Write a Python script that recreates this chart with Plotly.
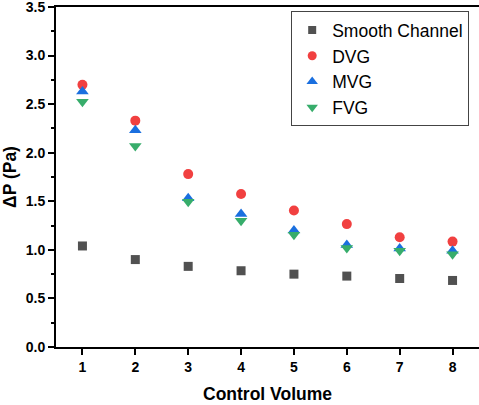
import plotly.graph_objects as go

control_volume = [1, 2, 3, 4, 5, 6, 7, 8]
smooth_channel = [1.04, 0.90, 0.83, 0.785, 0.75, 0.73, 0.705, 0.685]
dvg = [2.70, 2.33, 1.78, 1.575, 1.405, 1.265, 1.13, 1.085]
mvg = [2.63, 2.23, 1.53, 1.37, 1.20, 1.05, 1.015, 0.99]
fvg = [2.525, 2.07, 1.495, 1.30, 1.155, 1.02, 0.99, 0.955]

y_ticks = [0.0, 0.5, 1.0, 1.5, 2.0, 2.5, 3.0, 3.5]
y_tick_labels = ["0.0", "0.5", "1.0", "1.5", "2.0", "2.5", "3.0", "3.5"]
x_tick_labels = ["1", "2", "3", "4", "5", "6", "7", "8"]

series = [
    ("Smooth Channel", smooth_channel, "square", "#515151", 9, 8),
    ("DVG", dvg, "circle", "#F14040", 10, 9),
    ("MVG", mvg, "triangle-up", "#1A6FDF", 11, 10),
    ("FVG", fvg, "triangle-down", "#37AD6B", 11, 10),
]

fig = go.Figure()
for name, vals, sym, col, size, _ in series:
    fig.add_trace(go.Scatter(
        x=control_volume, y=vals, mode="markers", name=name, showlegend=False,
        marker=dict(symbol=sym, color=col, size=size, line=dict(width=0)),
    ))
# legend entries with slightly smaller symbols
for name, vals, sym, col, _, lsize in series:
    fig.add_trace(go.Scatter(
        x=[None], y=[None], mode="markers", name=name, showlegend=True,
        marker=dict(symbol=sym, color=col, size=lsize, line=dict(width=0)),
    ))

font_family = "Liberation Sans, Arial, sans-serif"

fig.update_layout(
    width=479, height=405,
    margin=dict(l=56, r=0, t=7, b=58),
    paper_bgcolor="white", plot_bgcolor="white",
    font=dict(family=font_family, color="black"),
    showlegend=True,
    legend=dict(
        x=0.556, y=0.988, xanchor="left", yanchor="top",
        bordercolor="#444", borderwidth=1, bgcolor="white",
        font=dict(size=17.5, family=font_family),
        itemsizing="trace", tracegroupgap=0,
    ),
    xaxis=dict(
        range=[0.5, 8.5],
        tickmode="array", tickvals=control_volume,
        ticktext=[f"<b>{t}</b>" for t in x_tick_labels],
        showgrid=False, zeroline=False,
        showline=True, linecolor="black", linewidth=2, mirror=True,
        ticks="outside", ticklen=6, tickwidth=2, tickcolor="black",
        tickfont=dict(size=14, family=font_family),
        title=dict(text="<b>Control Volume</b>", font=dict(size=17.5), standoff=14),
    ),
    yaxis=dict(
        range=[0, 3.5],
        tickmode="array", tickvals=y_ticks,
        ticktext=[f"<b>{t}</b>" for t in y_tick_labels],
        showgrid=False, zeroline=False,
        showline=True, linecolor="black", linewidth=2,
        ticks="outside", ticklen=6, tickwidth=2, tickcolor="black",
        ticklabeloverflow="allow",
        tickfont=dict(size=14, family=font_family),
        minor=dict(tickmode="linear", tick0=0, dtick=0.25, ticks="outside", ticklen=3,
                   tickwidth=1.5, tickcolor="black", showgrid=False),
        title=dict(text="<b>ΔP (Pa)</b>", font=dict(size=17.5), standoff=6),
    ),
)

fig.write_html("out.html")
